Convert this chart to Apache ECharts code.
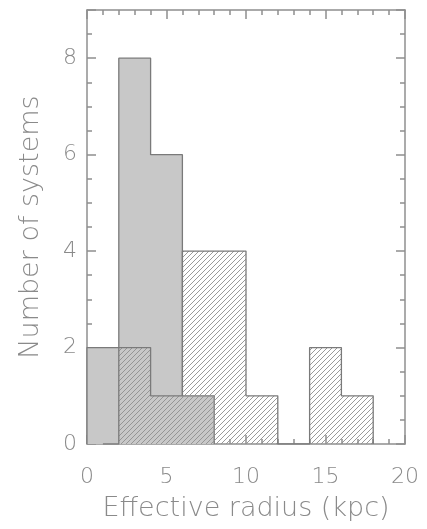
<!DOCTYPE html>
<html>
<head>
<meta charset="utf-8">
<script src="https://cdn.jsdelivr.net/npm/echarts@6/dist/echarts.min.js"></script>
<style>
html,body{margin:0;padding:0;background:#fff;}
#c{width:427px;height:529px;}
</style>
</head>
<body>
<div id="c"></div>
<script>
// Histogram bins (width 2 kpc); left edges and counts
var binWidth = 2;
var grayEdges = [0, 2, 4, 6];
var grayCounts = [2, 8, 6, 1];
var hatchEdges = [2, 4, 6, 8, 10, 12, 14, 16];
var hatchCounts = [2, 1, 4, 4, 1, 0, 2, 1];
var xTicks = [0, 5, 10, 15, 20];
var yTicks = [0, 2, 4, 6, 8];

function stepPoints(edges, counts, lead) {
  var pts = [[edges[0] - lead, 0], [edges[0], 0]];
  for (var i = 0; i < edges.length; i++) {
    pts.push([edges[i], counts[i]]);
    pts.push([edges[i] + binWidth, counts[i]]);
  }
  pts.push([edges[edges.length - 1] + binWidth, 0]);
  return pts;
}

// diagonal hatch pattern
var pc = document.createElement('canvas');
pc.width = 5; pc.height = 5;
var pctx = pc.getContext('2d');
pctx.strokeStyle = '#8f8f8f';
pctx.lineWidth = 0.9;
pctx.beginPath();
pctx.moveTo(-1, 6); pctx.lineTo(6, -1);
pctx.moveTo(-3.5, 3.5); pctx.lineTo(3.5, -3.5);
pctx.moveTo(1.5, 8.5); pctx.lineTo(8.5, 1.5);
pctx.stroke();

var txt = '#8a8a8a';
var axc = '#8f8f8f';
var font = 'DejaVu Sans';

function xAx(pos, show) {
  return {
    type: 'value', position: pos, min: 0, max: 20, interval: 5,
    name: show ? 'Effective radius (kpc)' : '', nameLocation: 'middle', nameGap: 51,
    nameTextStyle: {fontFamily: font, fontSize: 27, color: txt, fontWeight: 200},
    axisLine: {show: true, onZero: false, lineStyle: {color: axc, width: 1.5}},
    axisTick: {show: true, inside: true, length: 9, lineStyle: {color: axc, width: 1.5}},
    minorTick: {show: true, splitNumber: 5, length: 5, lineStyle: {color: axc, width: 1.5}},
    axisLabel: {show: show, margin: 22, fontFamily: font, fontSize: 22, color: txt, fontWeight: 200},
    splitLine: {show: false}
  };
}
function yAx(pos, show) {
  return {
    type: 'value', position: pos, min: 0, max: 9, interval: 2,
    name: show ? 'Number of systems' : '', nameLocation: 'middle', nameGap: 43,
    nameTextStyle: {fontFamily: font, fontSize: 27, color: txt, fontWeight: 200},
    axisLine: {show: true, onZero: false, lineStyle: {color: axc, width: 1.5}},
    axisTick: {show: true, inside: true, length: 9, lineStyle: {color: axc, width: 1.5}},
    minorTick: {show: true, splitNumber: 4, length: 5, lineStyle: {color: axc, width: 1.5}},
    axisLabel: {show: show, margin: 10, fontFamily: font, fontSize: 22, color: txt, fontWeight: 200, showMaxLabel: false},
    splitLine: {show: false}
  };
}

var chart = echarts.init(document.getElementById('c'), null, {renderer: 'canvas'});
chart.setOption({
  animation: false,
  backgroundColor: '#fff',
  grid: {left: 87, right: 22, top: 10, bottom: 85},
  xAxis: [xAx('bottom', true), xAx('top', false)],
  yAxis: [yAx('left', true), yAx('right', false)],
  series: [
    {
      type: 'line', xAxisIndex: 0, yAxisIndex: 0,
      data: stepPoints(grayEdges, grayCounts, 0),
      symbol: 'none', z: 2,
      lineStyle: {color: '#7a7a7a', width: 1.3},
      areaStyle: {color: '#c8c8c8', opacity: 1, origin: 'start'}
    },
    {
      type: 'line', xAxisIndex: 0, yAxisIndex: 0,
      data: stepPoints(hatchEdges, hatchCounts, binWidth / 2),
      symbol: 'none', z: 3,
      lineStyle: {color: '#7a7a7a', width: 1.3},
      areaStyle: {color: {image: pc, repeat: 'repeat'}, opacity: 1, origin: 'start'}
    }
  ]
});
</script>
</body>
</html>
